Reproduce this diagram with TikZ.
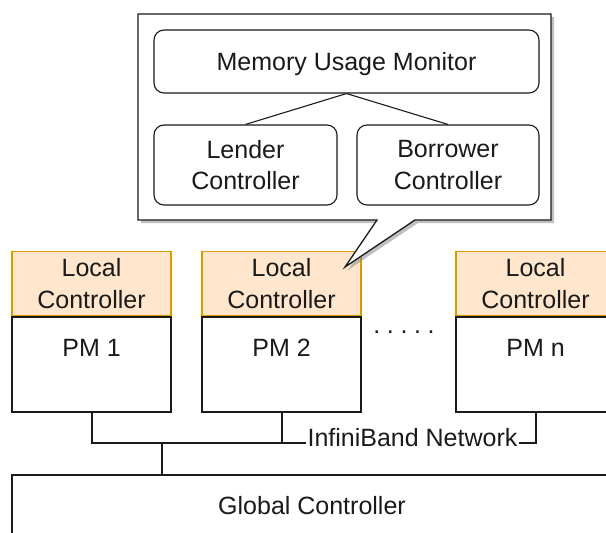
\documentclass[tikz,border=0pt]{standalone}
\usepackage{fontspec}
\setmainfont{Liberation Sans}
\definecolor{lcfill}{HTML}{FFE6CC}
\definecolor{lcdraw}{HTML}{D79B00}
\definecolor{ink}{HTML}{1A1A1A}
\begin{document}
\begin{tikzpicture}[x=1pt,y=-1pt,
  lbl/.style={font=\fontsize{25}{31.5}\selectfont, text=ink},
  rbox/.style={lbl, draw=ink, line width=1.1pt, rounded corners=10pt, fill=white, align=center, inner sep=0pt},
  lcbox/.style={lbl, draw=lcdraw, fill=lcfill, line width=1.2pt, minimum width=159pt, minimum height=64pt, align=center, inner sep=0pt},
  pmbox/.style={draw=ink, line width=1.2pt, minimum width=159pt, minimum height=95pt, fill=white, inner sep=0pt},
  net/.style={line width=2pt, draw=ink},
  link/.style={line width=1.1pt, draw=ink}
]
\useasboundingbox (0,0) rectangle (606,533);
\clip (0,0) rectangle (606,533);

% physical machines
\node[pmbox] (pm1) at (91.5,364.5) {};
\node[lcbox, anchor=south] (lc1) at (pm1.north) {Local\\Controller};
\node[lbl, anchor=base] (pm1t) at (91.5,356) {PM 1};

\node[pmbox] (pm2) at (281.5,364.5) {};
\node[lcbox, anchor=south] (lc2) at (pm2.north) {Local\\Controller};
\node[lbl, anchor=base] (pm2t) at (281.5,356) {PM 2};

\node[pmbox] (pmn) at (535.5,364.5) {};
\node[lcbox, anchor=south] (lcn) at (pmn.north) {Local\\Controller};
\node[lbl, anchor=base] (pmnt) at (535.5,356) {PM n};

\node[lbl, anchor=base, inner sep=0pt] (dots) at (404,333) {.\hspace{6.6pt}.\hspace{6.6pt}.\hspace{6.6pt}.\hspace{6.6pt}.};

% global controller
\node[lbl, draw=ink, line width=1.2pt, minimum width=600pt, minimum height=62pt, inner sep=0pt] (gc) at (312,506) {Global Controller};

% network
\coordinate (bar) at (0,443);
\coordinate (gtap) at (162,443);
\node[lbl, anchor=base, inner sep=1pt] (ib) at (412.5,446) {InfiniBand Network};
\draw[net] (pm1.south) |- (pm2.south |- bar) -- (pm2.south);
\draw[net] (pm2.south |- bar) -- (ib.west |- bar);
\draw[net] (ib.east |- bar) -| (pmn.south);
\draw[net] (gtap) -- (gtap |- gc.north);

% callout
\fill[black!45, opacity=0.55, shift={(3,3)}] (138,14) -- (551,14) -- (551,220) -- (415,220) -- (345,267) -- (377,220) -- (138,220) -- cycle;
\draw[ink, fill=white, line width=1.3pt, line join=miter] (138,14) -- (551,14) -- (551,220) -- (415,220) -- (345,267) -- (377,220) -- (138,220) -- cycle;

\node[rbox, minimum width=385pt, minimum height=63pt, text depth=0pt] (mum) at (346.5,61.5) {Memory Usage Monitor};
\node[rbox, minimum width=183pt, minimum height=80pt] (lend) at (245.5,165) {Lender\\Controller};
\node[rbox, minimum width=182pt, minimum height=80pt] (borr) at (448,165) {Borrower\\Controller};
\draw[link] (mum.south) -- (lend.north);
\draw[link] (mum.south) -- (borr.north);
\end{tikzpicture}
\end{document}
